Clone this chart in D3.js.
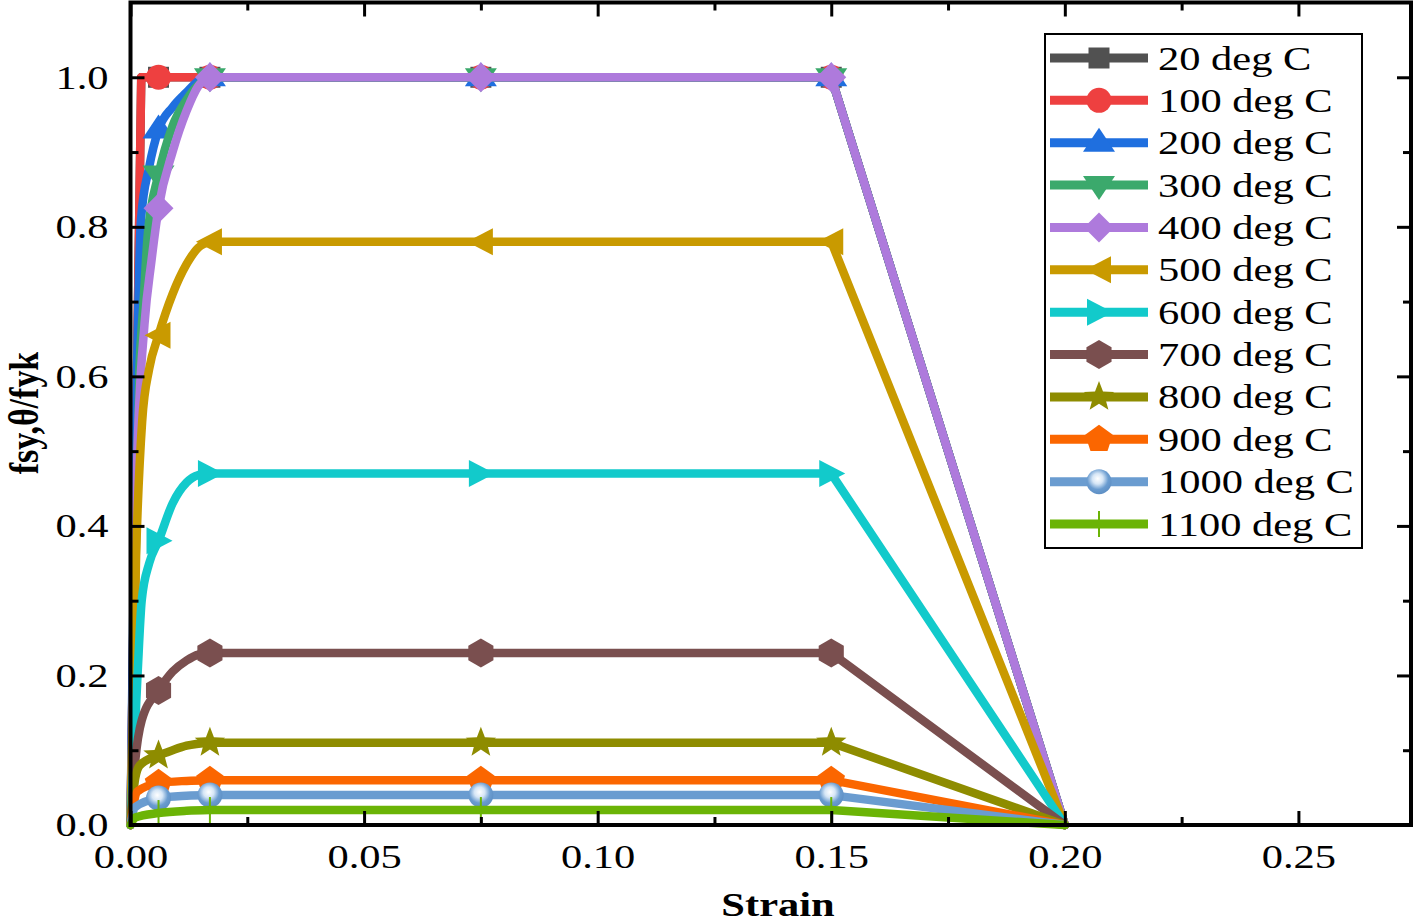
<!DOCTYPE html>
<html>
<head>
<meta charset="utf-8">
<script src="https://cdn.jsdelivr.net/npm/d3@7/dist/d3.min.js"></script>
<style>
  html, body { margin: 0; padding: 0; background: #ffffff; }
  svg { display: block; }
  text { font-family: "Liberation Serif", "Times New Roman", serif; fill: #000; }
</style>
</head>
<body>
<svg id="chart" width="1419" height="923"></svg>
<script>
// ---------------- data ----------------
const temps = [20, 100, 200, 300, 400, 500, 600, 700, 800, 900, 1000, 1100];
const seriesLabels = ["20 deg C", "100 deg C", "200 deg C", "300 deg C", "400 deg C", "500 deg C",
                      "600 deg C", "700 deg C", "800 deg C", "900 deg C", "1000 deg C", "1100 deg C"];
// plateau value f_sy,theta / f_yk
const yieldRatio = [1, 1, 1, 1, 1, 0.78, 0.47, 0.23, 0.11, 0.06, 0.04, 0.02];
// rising branch (strain, ratio)
const riseStrain = [
  [0, 0.0023],
  [0, 0.0023],
  [0, 0.00225, 0.004, 0.006, 0.009, 0.012, 0.0145, 0.017],
  [0, 0.0019, 0.0028, 0.0037, 0.006, 0.009, 0.012, 0.0145, 0.017],
  [0, 0.0014, 0.003, 0.0045, 0.006, 0.009, 0.012, 0.0145, 0.017],
  [0, 0.0012, 0.0025, 0.004, 0.006, 0.009, 0.012, 0.0145, 0.017],
  [0, 0.0015, 0.0024, 0.004, 0.006, 0.009, 0.012, 0.0145, 0.017],
  [0, 0.001, 0.0024, 0.006, 0.009, 0.012, 0.0145, 0.017],
  [0, 0.001, 0.002, 0.006, 0.009, 0.012, 0.017],
  [0, 0.0015, 0.006, 0.012, 0.017],
  [0, 0.001, 0.006, 0.012, 0.017],
  [0, 0.001, 0.006, 0.012, 0.017]
];
const riseValue = [
  [0, 1],
  [0, 1],
  [0, 0.81, 0.88, 0.93, 0.96, 0.98, 0.995, 1],
  [0, 0.61, 0.70, 0.79, 0.87, 0.935, 0.97, 0.99, 1],
  [0, 0.48, 0.67, 0.755, 0.825, 0.90, 0.955, 0.988, 1],
  [0, 0.36, 0.54, 0.61, 0.655, 0.71, 0.75, 0.772, 0.78],
  [0, 0.20, 0.30, 0.35, 0.38, 0.43, 0.458, 0.468, 0.47],
  [0, 0.085, 0.14, 0.18, 0.205, 0.22, 0.228, 0.23],
  [0, 0.062, 0.08, 0.093, 0.10, 0.106, 0.11],
  [0, 0.045, 0.056, 0.059, 0.06],
  [0, 0.024, 0.036, 0.039, 0.04],
  [0, 0.01, 0.016, 0.019, 0.02]
];
const plateauEndStrains = [0.075, 0.15];
const ultimateStrain = 0.2;
const markerStrain = [0.006, 0.017, 0.075, 0.15];

const xMajorTicks = [0, 0.05, 0.10, 0.15, 0.20, 0.25];
const xMinorTicks = [0.025, 0.075, 0.125, 0.175, 0.225];
const yMajorTicks = [0, 0.2, 0.4, 0.6, 0.8, 1.0];
const yMinorTicks = [0.1, 0.3, 0.5, 0.7, 0.9];

// ---------------- styles ----------------
const colors = ["#515151", "#EE4040", "#1F6FDF", "#3BA96C", "#AE7ADC", "#C99A00",
                "#12CACB", "#7A4F4F", "#8E8C00", "#FB6600", "#6A9CD0", "#6BB406"];
const shapes = ["square", "circle", "triUp", "triDown", "diamond", "triLeft",
                "triRight", "hexagon", "star", "pentagon", "sphere", "bar"];

const pLeft = 130.5, pRight = 1411, pTop = 2.5, pBottom = 825;
const TX = 1.25; // horizontal text stretch of the original picture

const svg = d3.select("#chart");
const defs = svg.append("defs");
const grad = defs.append("radialGradient").attr("id", "sphereGrad")
  .attr("cx", "45%").attr("cy", "40%").attr("r", "60%").attr("fx", "45%").attr("fy", "38%");
grad.append("stop").attr("offset", "0%").attr("stop-color", "#ffffff");
grad.append("stop").attr("offset", "35%").attr("stop-color", "#d6e6f6");
grad.append("stop").attr("offset", "70%").attr("stop-color", "#6A9CD0");
grad.append("stop").attr("offset", "100%").attr("stop-color", "#5e8fc4");

const x = d3.scaleLinear().domain([0, 0.2741]).range([pLeft, pRight]);
const y = d3.scaleLinear().domain([0, 1.1]).range([pBottom, pTop]);

function polygon(pts) { return "M" + pts.map(p => p[0].toFixed(2) + "," + p[1].toFixed(2)).join("L") + "Z"; }
function regular(n, r, rot) {
  const pts = [];
  for (let i = 0; i < n; i++) { const a = rot + i * 2 * Math.PI / n; pts.push([r * Math.cos(a), r * Math.sin(a)]); }
  return pts;
}
function markerPath(shape) {
  switch (shape) {
    case "square": return polygon([[-10.5, -10.5], [10.5, -10.5], [10.5, 10.5], [-10.5, 10.5]]);
    case "triUp": return polygon([[0, -15], [16, 9], [-16, 9]]);
    case "triDown": return polygon([[0, 15], [16, -9], [-16, -9]]);
    case "diamond": return polygon([[0, -15], [15, 0], [0, 15], [-15, 0]]);
    case "triLeft": return polygon([[-14, 0], [12, -13.5], [12, 13.5]]);
    case "triRight": return polygon([[14, 0], [-12, -13.5], [-12, 13.5]]);
    case "hexagon": return polygon(regular(6, 14.5, -Math.PI / 2));
    case "pentagon": return polygon(regular(5, 14.5, -Math.PI / 2));
    case "star": {
      const pts = [];
      for (let i = 0; i < 10; i++) {
        const a = -Math.PI / 2 + i * Math.PI / 5, r = i % 2 === 0 ? 16 : 6.8;
        pts.push([r * Math.cos(a), r * Math.sin(a)]);
      }
      return polygon(pts);
    }
    default: return null;
  }
}
function drawMarker(g, shape, color, cx, cy) {
  const mg = g.append("g").attr("transform", `translate(${cx},${cy})`);
  if (shape === "circle") {
    mg.append("circle").attr("r", 12.5).attr("fill", color);
  } else if (shape === "sphere") {
    mg.append("circle").attr("r", 12.5).attr("fill", "url(#sphereGrad)");
  } else if (shape === "bar") {
    mg.append("line").attr("x1", 0).attr("x2", 0).attr("y1", -13).attr("y2", 13)
      .attr("stroke", color).attr("stroke-width", 2);
  } else {
    mg.append("path").attr("d", markerPath(shape)).attr("fill", color);
  }
}

// ---------------- curves ----------------
const riseLine = d3.line().x(d => x(d[0])).y(d => y(d[1])).curve(d3.curveMonotoneX);
const restLine = d3.line().x(d => x(d[0])).y(d => y(d[1]));
const plot = svg.append("g");

temps.forEach((t, i) => {
  const rise = riseStrain[i].map((s, j) => [s, riseValue[i][j]]);
  const last = rise[rise.length - 1];
  const rest = [last, ...plateauEndStrains.map(s => [s, yieldRatio[i]]), [ultimateStrain, 0]];
  const g = plot.append("g");
  g.append("path").attr("d", riseLine(rise)).attr("fill", "none").attr("stroke", colors[i])
    .attr("stroke-width", 8.5).attr("stroke-linejoin", "round").attr("stroke-linecap", "round");
  g.append("path").attr("d", restLine(rest)).attr("fill", "none").attr("stroke", colors[i])
    .attr("stroke-width", 8.5).attr("stroke-linejoin", "round").attr("stroke-linecap", "round");
  markerStrain.forEach(ms => {
    let v;
    const k = riseStrain[i].indexOf(ms);
    if (k >= 0) v = riseValue[i][k];
    else v = yieldRatio[i];
    drawMarker(g, shapes[i], colors[i], x(ms), y(v));
  });
});

// ---------------- axes ----------------
const axisG = svg.append("g");
function styleAxis(g) {
  g.select(".domain").remove();
  g.selectAll(".tick line").attr("stroke", "#000").attr("stroke-width", 3);
}
// bottom
const gb = axisG.append("g").attr("transform", `translate(0,${pBottom})`)
  .call(d3.axisBottom(x).tickValues(xMajorTicks).tickSize(-14).tickSizeOuter(0).tickPadding(19)
    .tickFormat(d3.format(".2f")));
styleAxis(gb);
gb.selectAll(".tick text").attr("font-size", 34).attr("font-family", "Liberation Serif")
  .attr("transform", `scale(${TX},1)`);
const gbm = axisG.append("g").attr("transform", `translate(0,${pBottom})`)
  .call(d3.axisBottom(x).tickValues(xMinorTicks).tickSize(-8).tickSizeOuter(0).tickFormat(""));
styleAxis(gbm);
// top
const gt = axisG.append("g").attr("transform", `translate(0,${pTop})`)
  .call(d3.axisTop(x).tickValues(xMajorTicks).tickSize(-14).tickSizeOuter(0).tickFormat(""));
styleAxis(gt);
const gtm = axisG.append("g").attr("transform", `translate(0,${pTop})`)
  .call(d3.axisTop(x).tickValues(xMinorTicks).tickSize(-8).tickSizeOuter(0).tickFormat(""));
styleAxis(gtm);
// left
const gl = axisG.append("g").attr("transform", `translate(${pLeft},0)`)
  .call(d3.axisLeft(y).tickValues(yMajorTicks).tickSize(-14).tickSizeOuter(0).tickPadding(22)
    .tickFormat(d3.format(".1f")));
styleAxis(gl);
gl.selectAll(".tick text").attr("font-size", 34).attr("font-family", "Liberation Serif")
  .attr("x", -22 / TX).attr("transform", `scale(${TX},1)`);
const glm = axisG.append("g").attr("transform", `translate(${pLeft},0)`)
  .call(d3.axisLeft(y).tickValues(yMinorTicks).tickSize(-8).tickSizeOuter(0).tickFormat(""));
styleAxis(glm);
// right
const gr = axisG.append("g").attr("transform", `translate(${pRight},0)`)
  .call(d3.axisRight(y).tickValues(yMajorTicks).tickSize(-14).tickSizeOuter(0).tickFormat(""));
styleAxis(gr);
const grm = axisG.append("g").attr("transform", `translate(${pRight},0)`)
  .call(d3.axisRight(y).tickValues(yMinorTicks).tickSize(-8).tickSizeOuter(0).tickFormat(""));
styleAxis(grm);

// frame
axisG.append("rect").attr("x", pLeft).attr("y", pTop).attr("width", pRight - pLeft).attr("height", pBottom - pTop)
  .attr("fill", "none").attr("stroke", "#000").attr("stroke-width", 4);

// titles
svg.append("text").attr("transform", `translate(778,916) scale(${TX},1)`)
  .attr("text-anchor", "middle").attr("font-size", 34).attr("font-weight", "bold").text("Strain");
svg.append("text").attr("transform", `translate(38,413) scale(${TX},1) rotate(-90)`)
  .attr("text-anchor", "middle").attr("font-size", 34).attr("font-weight", "bold").text("fsy,θ/fyk");

// ---------------- legend ----------------
const lg = svg.append("g");
lg.append("rect").attr("x", 1045).attr("y", 34).attr("width", 317).attr("height", 514)
  .attr("fill", "#fff").attr("stroke", "#000").attr("stroke-width", 2);
const rowY = d3.scaleLinear().domain([0, temps.length - 1]).range([58, 524]);
temps.forEach((t, i) => {
  const cy = rowY(i);
  lg.append("line").attr("x1", 1050).attr("x2", 1148).attr("y1", cy).attr("y2", cy)
    .attr("stroke", colors[i]).attr("stroke-width", 9);
  drawMarker(lg, shapes[i], colors[i], 1099, cy);
  lg.append("text").attr("transform", `translate(1158,${cy + 11.5}) scale(${TX},1)`)
    .attr("font-size", 34).text(seriesLabels[i]);
});
</script>
</body>
</html>
